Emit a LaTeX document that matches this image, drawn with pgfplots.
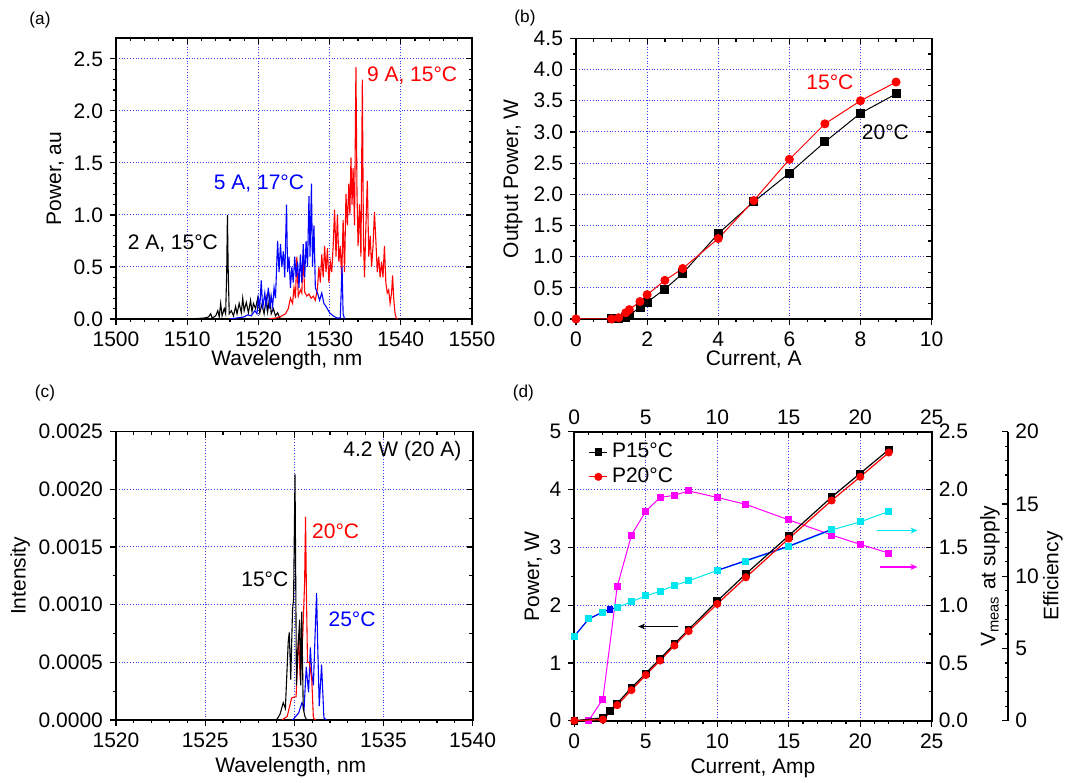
\documentclass[border=0pt]{standalone}
\usepackage{fontspec}
\setmainfont{Liberation Sans}
\usepackage{pgfplots}
\pgfplotsset{compat=1.18}
\usetikzlibrary{arrows.meta}
\definecolor{mycyan}{RGB}{0,230,240}
\definecolor{mymag}{RGB}{255,0,255}
\definecolor{gridblue}{RGB}{60,60,255}
\newcommand\ff{\fontsize{10.5}{12.6}\selectfont}
\newcommand\pf{\fontsize{8.6}{10}\selectfont}

\pgfplotsset{
  base/.style={
    scale only axis,
    font=\ff,
    tick label style={font=\ff},
    label style={font=\ff},
    /pgf/number format/assume math mode=true,
    /pgf/number format/1000 sep={},
    axis line style={line width=0.9pt},
    tick style={line width=0.6pt, black},
    major tick length=3pt,
    minor tick length=1.6pt,
    tick align=outside,
    xtick pos=bottom, ytick pos=left,
    grid=major,
    major grid style={gridblue, densely dotted, line width=0.5pt},
  },
  mirror/.style={
    scale only axis,
    font=\ff,
    tick label style={font=\ff},
    label style={font=\ff},
    /pgf/number format/assume math mode=true,
    scaled y ticks=false, scaled x ticks=false,
    axis x line*=top, axis y line*=right,
    axis line style={line width=0.9pt},
    tick style={line width=0.6pt, black},
    major tick length=3pt, minor tick length=1.6pt,
    tick align=inside,
    xticklabels={}, yticklabels={},
  },
  spec/.style={line width=0.55pt, no markers},
}

\begin{document}
\begin{tikzpicture}
\path[use as bounding box] (0,0) rectangle (532.5pt,391pt);

% ---------------- (a)
\node[font=\pf] at (20pt,381pt) {(a)};
\begin{axis}[base, at={(58pt,231.5pt)}, anchor=south west, width=178pt, height=140.5pt,
  xmin=1500, xmax=1550, ymin=0, ymax=2.7,
  xtick={1500,1510,1520,1530,1540,1550}, ytick={0,0.5,1,1.5,2,2.5},
  minor x tick num=4, minor y tick num=4,
  yticklabel style={/pgf/number format/fixed, /pgf/number format/fixed zerofill, /pgf/number format/precision=1},
  xlabel={Wavelength, nm}, ylabel={Power, au},
  xlabel style={at={(axis description cs:0.48,-0.146)}, anchor=center},
  ylabel style={at={(axis description cs:-0.171,0.5)}, anchor=center},
]
\addplot[spec, black] coordinates {
(1510.5,0) (1511.5,0.005) (1512.5,0.01) (1513,0.02) (1513.3,0.05) (1513.5,0.01) (1514,0.03)
(1514.3,0.08) (1514.5,0.02) (1514.7,0.15) (1514.9,0.03) (1515.2,0.1) (1515.4,0.05) (1515.55,0.45)
(1515.65,1.0) (1515.75,0.5) (1515.9,0.05) (1516.2,0.08) (1516.5,0.03) (1516.8,0.12) (1517,0.05)
(1517.3,0.15) (1517.6,0.06) (1517.8,0.2) (1518,0.08) (1518.3,0.16) (1518.6,0.06) (1518.9,0.18)
(1519.1,0.07) (1519.3,0.15) (1519.6,0.1) (1519.9,0.2) (1520.2,0.06) (1520.5,0.14) (1520.8,0.05)
(1521.1,0.2) (1521.3,0.07) (1521.6,0.22) (1521.8,0.05) (1522.1,0.1) (1522.4,0.03) (1522.7,0.06)
(1523,0.01) (1523.5,0)
};
\addplot[spec, red] coordinates {
(1521.5,0) (1522.5,0.01) (1523.3,0.03) (1523.8,0.05) (1524.2,0.1) (1524.5,0.2) (1524.8,0.15)
(1525,0.3) (1525.2,0.2) (1525.4,0.6) (1525.6,0.22) (1525.9,0.28) (1526.1,0.25) (1526.3,0.62)
(1526.5,0.26) (1526.8,0.22) (1527.1,0.24) (1527.4,0.2) (1527.7,0.22) (1528,0.18) (1528.3,0.3)
(1528.5,0.5) (1528.7,0.35) (1528.9,0.62) (1529.1,0.4) (1529.3,0.7) (1529.5,0.45) (1529.7,0.68)
(1529.9,0.35) (1530.1,0.55) (1530.3,0.45) (1530.5,0.7) (1530.7,1.05) (1530.9,0.6) (1531.1,1.0)
(1531.3,0.55) (1531.5,0.7) (1531.7,0.4) (1531.9,0.95) (1532.1,0.45) (1532.3,1.2) (1532.5,0.9)
(1532.7,1.3) (1532.85,1.0) (1533.0,1.55) (1533.15,1.1) (1533.3,1.45) (1533.5,0.9) (1533.7,2.42)
(1533.85,1.2) (1534.0,0.7) (1534.2,1.1) (1534.4,0.6) (1534.6,2.3) (1534.75,0.8) (1534.9,0.4)
(1535.1,0.9) (1535.3,1.33) (1535.5,0.6) (1535.7,0.8) (1535.9,0.5) (1536.1,0.7) (1536.3,1.03)
(1536.5,0.75) (1536.7,0.45) (1536.9,0.6) (1537.1,0.4) (1537.3,0.55) (1537.5,0.4) (1537.7,0.7)
(1537.9,0.35) (1538.1,0.25) (1538.3,0.28) (1538.5,0.15) (1538.7,0.25) (1538.85,0.42) (1539.0,0.2)
(1539.2,0.05) (1539.4,0) (1539.6,0)
};
\addplot[spec, blue] coordinates {
(1516,0) (1517,0.01) (1518,0.02) (1518.5,0.04) (1519,0.03) (1519.5,0.08) (1519.8,0.05) (1520,0.2)
(1520.2,0.12) (1520.4,0.37) (1520.6,0.1) (1520.9,0.25) (1521.1,0.12) (1521.4,0.3) (1521.6,0.1)
(1521.8,0.22) (1522,0.12) (1522.2,0.3) (1522.4,0.2) (1522.7,0.75) (1522.9,0.45) (1523.1,0.72)
(1523.3,0.5) (1523.5,0.65) (1523.7,0.4) (1523.95,1.1) (1524.1,0.45) (1524.3,0.6) (1524.5,0.3)
(1524.7,0.5) (1524.9,0.35) (1525.1,0.6) (1525.3,0.4) (1525.5,0.55) (1525.7,0.3) (1525.9,0.62)
(1526.1,0.35) (1526.3,0.72) (1526.5,0.4) (1526.7,0.75) (1526.9,0.5) (1527.1,1.18) (1527.25,0.6)
(1527.45,1.3) (1527.6,0.5) (1527.8,0.9) (1528,0.3) (1528.3,0.25) (1528.6,0.18) (1528.9,0.25)
(1529.2,0.15) (1529.5,0.12) (1530,0.06) (1530.5,0.03) (1531,0.01) (1531.5,0.01) (1531.75,0.5)
(1531.9,0.05) (1532.1,0)
};
\node[red, anchor=west, inner sep=0pt] at (axis cs:1535.2,2.34) {9 A, 15°C};
\node[blue, anchor=west, inner sep=0pt] at (axis cs:1513.7,1.30) {5 A, 17°C};
\node[black, anchor=west, inner sep=0pt] at (axis cs:1501.6,0.73) {2 A, 15°C};
\end{axis}
\begin{axis}[mirror, at={(58pt,231.5pt)}, anchor=south west, width=178pt, height=140.5pt,
  xmin=1500, xmax=1550, ymin=0, ymax=2.7,
  xtick={1500,1510,1520,1530,1540,1550}, ytick={0,0.5,1,1.5,2,2.5},
  minor x tick num=4, minor y tick num=4]
\end{axis}

% ---------------- (b)
\node[font=\pf] at (262.5pt,382pt) {(b)};
\begin{axis}[base, at={(288pt,231.5pt)}, anchor=south west, width=177.8pt, height=140.3pt,
  xmin=0, xmax=10, ymin=0, ymax=4.5,
  xtick={0,2,4,6,8,10}, ytick={0,0.5,1,1.5,2,2.5,3,3.5,4,4.5},
  minor x tick num=3, minor y tick num=1,
  yticklabel style={/pgf/number format/fixed, /pgf/number format/fixed zerofill, /pgf/number format/precision=1},
  xlabel={Current, A}, ylabel={Output Power, W},
  xlabel style={at={(axis description cs:0.5,-0.146)}, anchor=center},
  ylabel style={at={(axis description cs:-0.177,0.5)}, anchor=center},
]
\addplot[black, line width=0.5pt, mark=square*, mark size=2pt] coordinates {
(1,0) (1.2,0) (1.4,0.02) (1.5,0.06) (1.8,0.19) (2,0.27) (2.5,0.48) (3,0.73) (4,1.37) (5,1.88)
(6,2.34) (7,2.84) (8,3.3) (9,3.61)
};
\addplot[red, line width=0.5pt, mark=*, mark size=2pt] coordinates {
(0,0) (1,0) (1.2,0.02) (1.4,0.1) (1.5,0.15) (1.8,0.28) (2,0.39) (2.5,0.62) (3,0.81) (4,1.29)
(5,1.9) (6,2.56) (7,3.13) (8,3.5) (9,3.8)
};
\node[red, anchor=west, inner sep=0pt] at (axis cs:6.47,3.79) {15°C};
\node[black, anchor=west, inner sep=0pt] at (axis cs:8.03,3.0) {20°C};
\end{axis}
\begin{axis}[mirror, at={(288pt,231.5pt)}, anchor=south west, width=177.8pt, height=140.3pt,
  xmin=0, xmax=10, ymin=0, ymax=4.5,
  xtick={0,2,4,6,8,10}, ytick={0,0.5,1,1.5,2,2.5,3,3.5,4,4.5},
  minor x tick num=3, minor y tick num=1]
\end{axis}

% ---------------- (c)
\node[font=\pf] at (22.5pt,194.3pt) {(c)};
\begin{axis}[base, at={(58pt,31pt)}, anchor=south west, width=178.3pt, height=144.2pt,
  xmin=1520, xmax=1540, ymin=0, ymax=0.0025,
  xtick={1520,1525,1530,1535,1540}, ytick={0,0.0005,0.001,0.0015,0.002,0.0025},
  minor x tick num=4, minor y tick num=1,
  scaled y ticks=false,
  yticklabel style={/pgf/number format/fixed, /pgf/number format/fixed zerofill, /pgf/number format/precision=4},
  xlabel={Wavelength, nm}, ylabel={Intensity},
  xlabel style={at={(axis description cs:0.49,-0.162)}, anchor=center},
  ylabel style={at={(axis description cs:-0.269,0.5)}, anchor=center},
]
\addplot[spec, blue] coordinates {
(1529.9,0) (1530.24,0.00006) (1530.43,0.00015) (1530.55,0.0001) (1530.67,0.00046) (1530.8,0.00024)
(1530.9,0.00063) (1530.98,0.0004) (1531.07,0.0003) (1531.18,0.0008) (1531.25,0.0011) (1531.32,0.0006)
(1531.4,0.00012) (1531.53,0.00048) (1531.66,0.00002) (1531.8,0)
};
\addplot[spec, red] coordinates {
(1529.3,0) (1529.6,0.00003) (1529.85,0.00019) (1530.0,0.0002) (1530.1,0.0002) (1530.24,0.00075)
(1530.33,0.00035) (1530.48,0.00075) (1530.58,0.0012) (1530.63,0.00176) (1530.68,0.0011) (1530.74,0.0005)
(1530.85,0.0005) (1530.98,0.00035) (1531.07,0.00002) (1531.2,0)
};
\addplot[spec, black] coordinates {
(1529.0,0) (1529.2,0.00005) (1529.38,0.00015) (1529.5,0.0001) (1529.66,0.00068) (1529.72,0.00076)
(1529.8,0.00035) (1529.9,0.00095) (1529.96,0.00105) (1530.04,0.00213) (1530.12,0.0003) (1530.2,0.0006)
(1530.3,0.00087) (1530.36,0.0003) (1530.42,0.00094) (1530.5,0.0001) (1530.6,0.00003) (1530.7,0)
};
\node[black, anchor=east, inner sep=0pt] at (axis cs:1539.39,0.002327) {4.2 W (20 A)};
\node[red, anchor=west, inner sep=0pt] at (axis cs:1530.98,0.00164) {20°C};
\node[black, anchor=west, inner sep=0pt] at (axis cs:1527.01,0.001223) {15°C};
\node[blue, anchor=west, inner sep=0pt] at (axis cs:1531.9,0.000873) {25°C};
\end{axis}
\begin{axis}[mirror, at={(58pt,31pt)}, anchor=south west, width=178.3pt, height=144.2pt,
  xmin=1520, xmax=1540, ymin=0, ymax=0.0025,
  xtick={1520,1525,1530,1535,1540}, ytick={0,0.0005,0.001,0.0015,0.002,0.0025},
  minor x tick num=4, minor y tick num=1]
\end{axis}

% ---------------- (d)
\node[font=\pf] at (261.7pt,194.3pt) {(d)};
\begin{axis}[base, at={(287.15pt,30.65pt)}, anchor=south west, width=178.7pt, height=144.5pt,
  xmin=0, xmax=25, ymin=0, ymax=5,
  xtick={0,5,10,15,20,25}, ytick={0,1,2,3,4,5},
  minor x tick num=4, minor y tick num=1,
  xlabel={Current, Amp}, ylabel={Power, W},
  xlabel style={at={(axis description cs:0.5,-0.165)}, anchor=center},
  ylabel style={at={(axis description cs:-0.115,0.5)}, anchor=center},
]
\end{axis}
% efficiency data
\begin{axis}[scale only axis, hide axis, at={(287.15pt,30.65pt)}, anchor=south west, width=178.7pt, height=144.5pt,
  xmin=0, xmax=25, ymin=0, ymax=20]
\addplot[mymag, line width=0.5pt, mark=square*, mark size=1.5pt] coordinates {
(0,0) (1,0) (2,1.5) (3,9.27) (4,12.85) (5,14.5) (6,15.45) (7,15.6) (8,15.9) (10,15.45) (12,14.97)
(15,13.9) (18,12.85) (20,12.2) (22,11.6)
};
\end{axis}
% V axis (right, top)
\begin{axis}[mirror, at={(287.15pt,30.65pt)}, anchor=south west, width=178.7pt, height=144.5pt,
  xmin=0, xmax=25, ymin=0, ymax=2.5,
  xtick={0,5,10,15,20,25}, ytick={0,0.5,1,1.5,2,2.5},
  minor x tick num=4, minor y tick num=1,
  xticklabels={0,5,10,15,20,25},
  yticklabels={0.0,0.5,1.0,1.5,2.0,2.5},
  ylabel={V\textsubscript{meas} at supply},
  ylabel style={at={(axis description cs:1.163,0.5)}, anchor=center},
]
\addplot[mycyan, line width=0.5pt, mark=square*, mark size=1.5pt] coordinates {
(0,0.73) (1,0.88) (2,0.94) (3,0.98) (4,1.03) (5,1.08) (6,1.12) (7,1.17) (8,1.21) (10,1.3)
(12,1.38) (15,1.505) (18,1.65) (20,1.72) (22,1.81)
};
\addplot[blue, line width=0.6pt, mark=square*, mark size=1.4pt, mark indices={4}] coordinates {
(0,0.73) (1,0.88) (2,0.94) (2.5,0.965) (3,0.98)
};
\addplot[blue, line width=0.6pt, no markers] coordinates {
(10,1.3) (12,1.385) (15,1.51) (18,1.655)
};
\end{axis}
% power data + legend
\begin{axis}[scale only axis, hide axis, at={(287.15pt,30.65pt)}, anchor=south west, width=178.7pt, height=144.5pt,
  xmin=0, xmax=25, ymin=0, ymax=5,
  font=\ff,
  legend style={at={(axis description cs:0.039,0.975)}, anchor=north west, draw=none, fill=none,
    font=\ff, inner sep=0pt, row sep=-0.5pt},
  legend cell align=left,
  legend image code/.code={\draw[mark repeat=2,mark phase=2,#1] plot coordinates {(0cm,0cm) (0.16cm,0cm) (0.32cm,0cm)};},
]
\addplot[black, line width=0.6pt, mark=square*, mark size=1.6pt] coordinates {
(0,0) (2,0.05) (2.5,0.17) (3,0.3) (4,0.57) (5,0.82) (6,1.07) (7,1.33) (8,1.58) (10,2.07)
(12,2.54) (15,3.2) (18,3.87) (20,4.28) (22,4.69)
};
\addlegendentry{P15°C}
\addplot[red, line width=0.6pt, mark=*, mark size=1.7pt] coordinates {
(0,0) (2,0.02) (3,0.27) (4,0.53) (5,0.79) (6,1.04) (7,1.3) (8,1.55) (10,2.02) (12,2.48)
(15,3.15) (18,3.81) (20,4.22) (22,4.64)
};
\addlegendentry{P20°C}
\draw[black, line width=0.6pt, -{Stealth[length=3.5pt,width=3pt]}] (axis cs:7.26,1.63) -- (axis cs:4.47,1.63);
\draw[mycyan, line width=0.6pt, -{Stealth[length=3.5pt,width=3pt]}] (axis cs:21.15,3.29) -- (axis cs:24.0,3.29);
\draw[mymag, line width=0.6pt, -{Stealth[length=3.5pt,width=3pt]}] (axis cs:21.37,2.66) -- (axis cs:24.0,2.66);
\end{axis}
% efficiency axis
\begin{axis}[scale only axis, at={(494.15pt,30.65pt)}, anchor=south west, width=10pt, height=144.5pt,
  font=\ff, tick label style={font=\ff}, label style={font=\ff},
  /pgf/number format/assume math mode=true,
  xmin=0, xmax=1, ymin=0, ymax=20,
  axis y line*=right, axis x line=none, xtick=\empty,
  axis line style={line width=0.9pt},
  tick style={line width=0.6pt, black},
  major tick length=3pt, minor tick length=1.6pt,
  tick align=inside,
  ytick={0,5,10,15,20}, minor y tick num=4,
  ylabel={Efficiency},
  ylabel style={at={(axis description cs:3.235,0.5)}, anchor=center},
]
\end{axis}
\end{tikzpicture}
\end{document}
